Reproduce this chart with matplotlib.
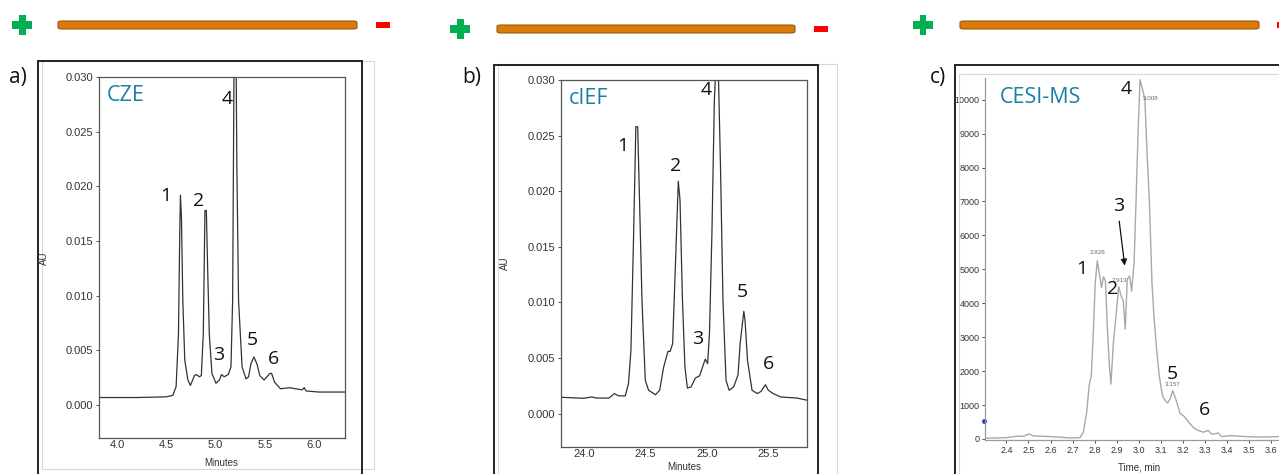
import numpy as np
import matplotlib.pyplot as plt
from matplotlib.patches import Rectangle, FancyBboxPatch

# ---- data ----
# a) CZE, minutes vs AU
cze_t = [3.82, 4.20, 4.50, 4.567, 4.60, 4.624, 4.637, 4.644, 4.654, 4.668, 4.688, 4.72, 4.745,
         4.786, 4.806, 4.836, 4.856, 4.876, 4.893, 4.907, 4.92, 4.937, 4.964, 5.005, 5.04, 5.06,
         5.088, 5.13, 5.157, 5.174, 5.19, 5.207, 5.217, 5.234, 5.27, 5.31, 5.336, 5.36, 5.39,
         5.42, 5.45, 5.494, 5.551, 5.57, 5.60, 5.66, 5.75, 5.88, 5.90, 5.92, 6.05, 6.31]
cze_au = [0.0007, 0.0007, 0.00076, 0.0009, 0.0017, 0.0065, 0.0157, 0.0192, 0.0172, 0.0096, 0.0041,
          0.0023, 0.0018, 0.0027, 0.0028, 0.0026, 0.0027, 0.0065, 0.0178, 0.0178, 0.0126, 0.0065,
          0.0029, 0.0020, 0.0023, 0.0028, 0.0026, 0.0028, 0.0035, 0.0096, 0.0340, 0.0340, 0.0218,
          0.0096, 0.0035, 0.0024, 0.0026, 0.0038, 0.0044, 0.0038, 0.0027, 0.0023, 0.0029, 0.0029,
          0.0021, 0.0015, 0.0016, 0.0014, 0.0016, 0.0013, 0.0012, 0.0012]

# b) cIEF, minutes vs AU
cief_t = [23.81, 23.995, 24.06, 24.10, 24.20, 24.245, 24.28, 24.334, 24.36, 24.38, 24.402, 24.42,
          24.435, 24.45, 24.47, 24.497, 24.524, 24.58, 24.614, 24.647, 24.682, 24.70, 24.72, 24.742,
          24.766, 24.78, 24.80, 24.82, 24.84, 24.87, 24.905, 24.94, 24.97, 24.986, 25.005, 25.02,
          25.04, 25.06, 25.076, 25.09, 25.11, 25.13, 25.155, 25.18, 25.217, 25.253, 25.27, 25.30,
          25.31, 25.33, 25.367, 25.41, 25.44, 25.476, 25.50, 25.54, 25.60, 25.734, 25.818]
cief_au = [0.00147, 0.00138, 0.0015, 0.0014, 0.0014, 0.0018, 0.0016, 0.0016, 0.0027, 0.0057, 0.0162,
           0.0258, 0.0258, 0.0192, 0.0102, 0.0030, 0.0021, 0.0017, 0.0021, 0.0042, 0.0056, 0.0056,
           0.0063, 0.0132, 0.0209, 0.0192, 0.0102, 0.0042, 0.0023, 0.0024, 0.0032, 0.0034, 0.0044,
           0.0049, 0.0045, 0.0072, 0.0162, 0.0282, 0.0320, 0.0320, 0.0222, 0.0102, 0.0030, 0.0021,
           0.0024, 0.0035, 0.0063, 0.0092, 0.0084, 0.0048, 0.0021, 0.0018, 0.0020, 0.0026, 0.0021,
           0.0018, 0.0015, 0.0014, 0.0012]

# c) CESI-MS, time (min) vs intensity
ms_t = [2.303, 2.356, 2.40, 2.447, 2.477, 2.504, 2.522, 2.568, 2.628, 2.689, 2.733, 2.749, 2.764,
        2.775, 2.785, 2.794, 2.803, 2.812, 2.821, 2.831, 2.84, 2.849, 2.858, 2.867, 2.874, 2.885,
        2.897, 2.909, 2.92, 2.93, 2.939, 2.948, 2.959, 2.968, 2.979, 2.988, 2.997, 3.006, 3.018,
        3.028, 3.037, 3.048, 3.06, 3.069, 3.081, 3.093, 3.108, 3.12, 3.131, 3.142, 3.154, 3.163,
        3.175, 3.187, 3.205, 3.225, 3.247, 3.27, 3.293, 3.315, 3.33, 3.346, 3.36, 3.376, 3.414,
        3.459, 3.52, 3.58, 3.636]
ms_int = [20, 30, 40, 80, 80, 150, 90, 80, 60, 30, 40, 200, 780, 1570, 1860, 3140, 4610, 5250, 4900,
          4460, 4780, 4660, 3240, 2160, 1620, 2840, 3630, 4490, 4220, 4070, 3240, 4710, 4800, 4360,
          5200, 7060, 9020, 10590, 10290, 10000, 8530, 7060, 4610, 3630, 2650, 1860, 1270, 1130,
          1060, 1180, 1420, 1270, 1030, 760, 670, 510, 340, 250, 200, 250, 150, 150, 180, 70, 100,
          80, 60, 60, 70]
ms_apex = ["2.826", "2.913", "3.008", "3.157"]

peak_names = ["1", "2", "3", "4", "5", "6"]

W, H = 1279, 474
fig = plt.figure(figsize=(W / 100, H / 100), dpi=100)


def box(x0, y0, x1, y1):
    # pixel box (top-left origin) -> figure fraction rect
    return [x0 / W, 1 - y1 / H, (x1 - x0) / W, (y1 - y0) / H]


def rect(x0, y0, x1, y1, **kw):
    r = box(x0, y0, x1, y1)
    fig.patches.append(Rectangle((r[0], r[1]), r[2], r[3], transform=fig.transFigure, **kw))


# polarity symbols + capillary on top of each panel
for px, bx0, bx1, mx, yc in [(22, 58, 357, 383, 25), (460, 497, 795, 821, 29), (923, 960, 1259, 1284, 25)]:
    rect(px - 10, yc - 3.5, px + 10, yc + 3.5, color="#00b050", lw=0)
    rect(px - 3.5, yc - 10, px + 3.5, yc + 10, color="#00b050", lw=0)
    r = box(bx0, yc - 4, bx1, yc + 4)
    fig.patches.append(FancyBboxPatch((r[0], r[1]), r[2], r[3], boxstyle="round,pad=0,rounding_size=0.003",
                                      transform=fig.transFigure, fc="#d97a0b", ec="#9c5a10", lw=0.8))
    rect(mx - 7, yc - 2.5, mx + 7, yc + 3, color="#ff0000", lw=0)

# panel frames
rect(42, 61, 374, 469, fill=False, ec="#d8d8d8", lw=0.8)
rect(38, 61, 362, 480, fill=False, ec="#222222", lw=1.4)
rect(498, 64, 837, 480, fill=False, ec="#d8d8d8", lw=0.8)
rect(494, 65, 818, 480, fill=False, ec="#222222", lw=1.4)
rect(959, 74, 1290, 480, fill=False, ec="#d8d8d8", lw=0.8)
rect(955, 65, 1290, 480, fill=False, ec="#222222", lw=1.4)

for lbl, x, y in [("a)", 9, 78), ("b)", 462, 78), ("c)", 930, 78)]:
    fig.text(x / W, 1 - y / H, lbl, fontsize=15, family="Open Sans", va="center", color="#111111")

teal = "#1b7fa3"
tick_col = "#333333"


def uv_axes(rect_px, t, y, xlim, xticks, title, labels):
    ax = fig.add_axes(box(*rect_px))
    ax.plot(t, y, color="#333333", lw=0.9)
    ax.set_xlim(*xlim)
    ax.set_ylim(-0.003, 0.030)
    ax.set_xticks(xticks)
    ax.set_xticklabels(["%.1f" % v for v in xticks])
    ax.set_yticks([0, 0.005, 0.010, 0.015, 0.020, 0.025, 0.030])
    ax.set_yticklabels(["%.3f" % v for v in ax.get_yticks()])
    ax.tick_params(labelsize=8, colors=tick_col, length=2.5, width=0.6, pad=1.5)
    ax.tick_params(axis="x", length=0)
    for s in ax.spines.values():
        s.set_color("#555555")
        s.set_linewidth(0.9)
    for lb in ax.get_xticklabels() + ax.get_yticklabels():
        lb.set_family("Liberation Sans")
    ax.text(0.03, 0.95, title, transform=ax.transAxes, color=teal, fontsize=15.5,
            family="Open Sans", va="center", ha="left")
    for name, (lx, ly) in zip(peak_names, labels):
        ax.text(lx, ly, name, fontsize=14, family="Open Sans", ha="center", va="center", color="#111111")
    return ax


uv_axes((99, 77, 345, 438), cze_t, cze_au, (3.817, 6.315), [4.0, 4.5, 5.0, 5.5, 6.0], "CZE",
        [(4.49, 0.0191), (4.83, 0.0187), (5.03, 0.0046), (5.12, 0.0280), (5.37, 0.0060), (5.59, 0.0042)])
uv_axes((561, 80, 807, 447), cief_t, cief_au, (23.81, 25.815), [24.0, 24.5, 25.0, 25.5], "cIEF",
        [(24.31, 0.0241), (24.745, 0.0223), (24.92, 0.0067), (24.99, 0.0291), (25.29, 0.0109), (25.50, 0.0045)])

fig.text(44 / W, 1 - 258 / H, "AU", rotation=90, fontsize=7, color=tick_col, family="Liberation Sans",
         ha="center", va="center")
fig.text(221 / W, 1 - 463 / H, "Minutes", fontsize=7, color=tick_col, family="Liberation Sans",
         ha="center", va="center")
fig.text(505 / W, 1 - 263 / H, "AU", rotation=90, fontsize=7, color=tick_col, family="Liberation Sans",
         ha="center", va="center")
fig.text(684 / W, 1 - 467 / H, "Minutes", fontsize=7, color=tick_col, family="Liberation Sans",
         ha="center", va="center")

# c) CESI-MS panel
narrow = ["Liberation Sans Narrow", "Liberation Sans"]
axc = fig.add_axes(box(985, 78, 1279, 440))
axc.plot(ms_t, ms_int, color="#a8a8a8", lw=1.0)
axc.set_xlim(2.303, 3.636)
axc.set_ylim(-30, 10640)
axc.set_xticks(np.round(np.arange(2.4, 3.61, 0.1), 1))
axc.set_xticklabels(["%.1f" % v for v in axc.get_xticks()])
axc.set_yticks(range(0, 10001, 1000))
axc.tick_params(labelsize=6.5, colors=tick_col, length=2, width=0.6, pad=2)
for lb in axc.get_xticklabels() + axc.get_yticklabels():
    lb.set_family(narrow)
for s in ["top", "right"]:
    axc.spines[s].set_visible(False)
for s in ["left", "bottom"]:
    axc.spines[s].set_color("#9a9a9a")
    axc.spines[s].set_linewidth(0.9)
axc.plot([2.297], [540], "o", color="#1f3fbf", ms=2.5, clip_on=False)
for txt, (lx, ly) in zip(ms_apex, [(2.815, 5500), (2.912, 4680), (3.052, 10030), (3.152, 1620)]):
    axc.text(lx, ly, txt, fontsize=4.5, color="#666666", family=narrow, ha="center", va="center")
axc.text(0.05, 0.945, "CESI-MS", transform=axc.transAxes, color=teal, fontsize=15.5,
         family="Open Sans", va="center", ha="left")
for name, (lx, ly) in zip(peak_names, [(2.743, 5020), (2.88, 4430), (2.908, 6880), (2.945, 10310),
                                      (3.154, 1930), (3.297, 860)]):
    axc.text(lx, ly, name, fontsize=14, family="Open Sans", ha="center", va="center", color="#111111")
axc.annotate("", xy=(2.938, 5030), xytext=(2.91, 6500),
             arrowprops=dict(arrowstyle="-|>", color="#111111", lw=0.9, mutation_scale=9))
fig.text(1139 / W, 1 - 467 / H, "Time, min", fontsize=7, color=tick_col, family=narrow,
         ha="center", va="center")

fig.savefig("out.png", dpi=100, facecolor="white")
